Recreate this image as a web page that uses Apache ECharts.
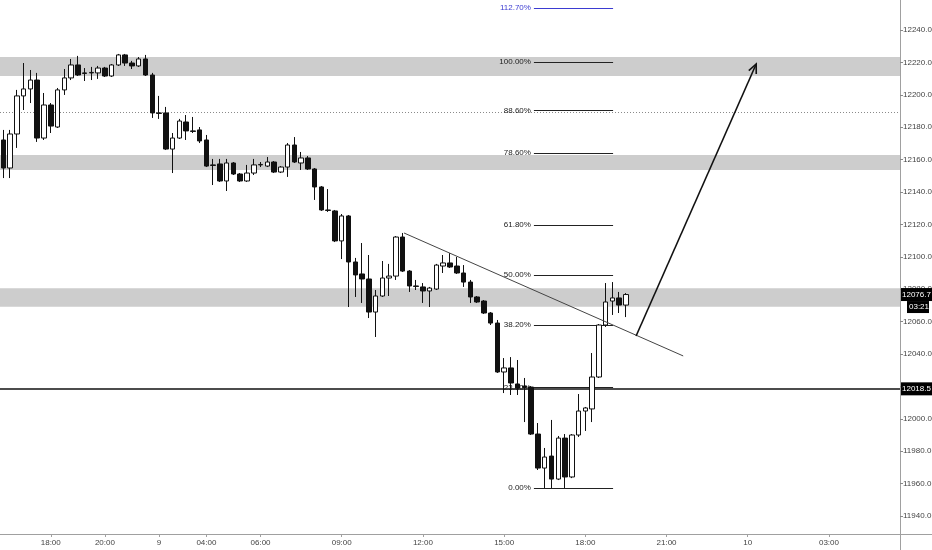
<!DOCTYPE html>
<html><head><meta charset="utf-8">
<script src="https://cdn.jsdelivr.net/npm/echarts@6/dist/echarts.min.js"></script>
<style>html,body{margin:0;padding:0;background:#fff}#c{width:932px;height:550px}</style>
</head><body><div id="c"></div>
<script>
// ---- data ----
const opens = [12172.1,12154.8,12175.8,12199.3,12203.6,12209.1,12173.3,12193.7,12180.1,12203.0,
12210.4,12218.4,12213.5,12213.5,12213.5,12216.5,12211.6,12218.4,12224.6,12219.6,
12217.8,12222.1,12212.2,12188.8,12188.8,12166.5,12173.3,12183.2,12177.7,12178.3,
12172.1,12156.7,12157.3,12146.8,12157.9,12151.1,12146.8,12151.7,12156.7,12156.0,
12158.5,12152.3,12155.4,12169.0,12157.9,12161.0,12154.2,12143.1,12128.9,12128.3,
12109.8,12125.2,12096.8,12089.4,12086.3,12065.9,12075.8,12086.9,12088.1,12112.2,
12091.2,12082.0,12081.4,12078.9,12080.1,12094.3,12096.2,12094.3,12090.0,12084.4,
12075.2,12072.7,12065.3,12059.1,12028.9,12031.4,12021.5,12020.2,12019.6,11990.6,
11969.6,11977.0,11962.8,11988.1,11964.1,11990.0,12004.8,12006.1,12025.8,12057.9,
12072.7,12074.6,12070.2];
const closes = [12154.8,12175.8,12199.3,12203.6,12209.1,12173.3,12193.7,12180.7,12203.0,12210.4,
12218.4,12212.2,12213.2,12213.8,12216.5,12211.6,12218.4,12224.6,12219.6,12217.8,
12222.1,12212.2,12188.8,12188.5,12166.5,12173.3,12183.8,12177.7,12177.4,12171.5,
12156.0,12156.4,12146.8,12157.9,12151.1,12146.8,12151.7,12156.7,12157.0,12158.5,
12152.3,12155.4,12169.0,12158.5,12161.0,12154.2,12143.1,12128.9,12128.6,12109.8,
12125.2,12096.8,12088.8,12086.3,12065.9,12075.8,12086.9,12088.1,12112.2,12091.2,
12082.0,12081.7,12078.9,12080.7,12094.9,12096.2,12093.7,12090.0,12084.4,12075.2,
12072.1,12065.3,12059.1,12028.9,12031.4,12022.1,12019.0,12019.3,11990.6,11969.6,
11976.4,11962.8,11988.1,11964.1,11990.0,12004.8,12006.7,12025.8,12057.9,12072.1,
12074.6,12070.2,12076.7];
const lows = [12148.6,12148.6,12167.2,12190.6,12194.9,12170.9,12172.1,12176.4,12179.5,12199.9,
12209.1,12211.6,12208.5,12209.1,12209.8,12211.0,12211.0,12217.8,12217.8,12215.9,
12217.2,12211.6,12185.7,12185.1,12165.9,12151.7,12172.7,12172.1,12176.4,12170.2,
12155.4,12144.3,12146.2,12140.6,12150.5,12146.2,12146.2,12150.5,12155.4,12155.4,
12151.7,12151.7,12149.3,12157.9,12153.6,12153.6,12135.1,12128.3,12127.7,12109.1,
12098.6,12069.0,12075.2,12071.5,12062.2,12050.5,12075.2,12075.8,12085.7,12090.6,
12078.3,12079.5,12071.5,12069.0,12079.5,12090.0,12093.1,12089.4,12081.4,12071.5,
12071.5,12064.7,12057.9,12028.3,12015.9,12014.7,12014.7,11998.0,11990.0,11968.4,
11957.3,11957.3,11962.2,11957.3,11963.4,11988.8,11992.5,11998.0,12025.2,12056.7,
12064.1,12065.3,12062.8];
const highs = [12178.3,12178.3,12203.0,12219.6,12215.3,12213.5,12201.1,12194.9,12204.2,12215.9,
12222.1,12224.0,12216.5,12217.2,12217.8,12217.2,12219.0,12225.2,12225.2,12220.9,
12223.3,12224.6,12213.5,12199.3,12192.5,12176.4,12185.1,12187.5,12186.3,12180.1,
12175.2,12160.4,12160.4,12160.4,12158.5,12151.7,12156.7,12160.4,12158.5,12161.6,
12159.1,12156.0,12170.2,12173.9,12164.7,12162.2,12154.8,12143.7,12141.8,12128.9,
12126.4,12125.8,12099.3,12108.5,12101.1,12079.5,12097.4,12095.6,12112.8,12114.7,
12091.8,12085.7,12083.8,12081.4,12095.6,12101.1,12102.3,12099.9,12094.9,12085.7,
12075.8,12073.3,12065.9,12061.0,12037.5,12038.1,12036.3,12025.2,12020.2,11997.4,
11982.0,11999.3,11989.4,11990.6,11990.6,12015.3,12007.3,12040.6,12058.5,12083.8,
12084.4,12078.3,12077.6];

const slotCount = 133;               // visible bar slots incl. future space
const timeTicks = {7:'18:00',15:'20:00',23:'9',30:'04:00',38:'06:00',50:'09:00',62:'12:00',74:'15:00',86:'18:00',98:'21:00',110:'10',122:'03:00'};
const priceTicks = [11940,11960,11980,12000,12020,12040,12060,12080,12100,12120,12140,12160,12180,12200,12220,12240];
const yTop = 12258.5, yBottom = 11928.9;

const zones = [[12211.6,12223.3],[12153.6,12162.8],[12069.2,12080.6]];
const dottedLevel = 12189.5;
const supportLevel = 12018.5;
const lastPrice = 12076.7;
const countdown = '03:21';

const fibLow = 11957.3, fibHigh = 12220.2;
const fibLevels = [0,0.236,0.382,0.5,0.618,0.786,0.886,1,1.127];
const fibLabels = ['0.00%','23.60%','38.20%','50.00%','61.80%','78.60%','88.60%','100.00%','112.70%'];
const fibFrom = 78.4, fibTo = 90.1;

const trendLine = [[59.2,12114.7],[100.46,12038.8]];
const arrow = [93.5,12051.1,111.25,12219.0];

// ---- build ----
const categories = [];
for (let i = 0; i < slotCount; i++) categories.push(timeTicks[i] !== undefined ? timeTicks[i] : '');
const ohlc = opens.map((o,i)=>[o, closes[i], lows[i], highs[i]]);

const chart = echarts.init(document.getElementById('c'));
const font = 'Liberation Sans, Arial, sans-serif';
const isTick = (i)=> timeTicks[i] !== undefined;

const fibData = fibLevels.map((lv,k)=>{
  const v = fibLow + lv*(fibHigh-fibLow);
  const col = k===8 ? '#3b3bd1' : '#222';
  return [
    {coord:[fibFrom, v], lineStyle:{color:col, width:1, type:'solid'},
     label:{show:true, position:'start', formatter:fibLabels[k], color:col, fontSize:8, fontFamily:font, distance:3}},
    {coord:[fibTo, v]}
  ];
});

const option = {
  animation:false,
  backgroundColor:'#fff',
  grid:{left:0, right:32, top:0, bottom:16, containLabel:false, outerBoundsMode:'none'},
  xAxis:[
    {type:'category', data:categories, boundaryGap:true,
     axisLine:{show:true, onZero:false, lineStyle:{color:'#a0a0a0', width:1}},
     axisTick:{show:true, alignWithLabel:true, interval:(i)=>isTick(i), length:3, lineStyle:{color:'#a0a0a0'}},
     axisLabel:{interval:(i)=>isTick(i), fontSize:8, color:'#444', fontFamily:font, margin:5},
     splitLine:{show:false}},
    {type:'value', min:-0.5, max:slotCount-0.5, show:false, axisLine:{onZero:false}}
  ],
  yAxis:{type:'value', position:'right', min:yBottom, max:yTop, scale:true,
    axisLine:{show:true, onZero:false, lineStyle:{color:'#a0a0a0'}},
    axisTick:{show:true, length:3, customValues:priceTicks, lineStyle:{color:'#888'}},
    axisLabel:{customValues:priceTicks, formatter:(v)=>Number(v).toFixed(1), fontSize:8, color:'#444', fontFamily:font, margin:3},
    splitLine:{show:false}},
  series:[
    {type:'line', xAxisIndex:1, data:[], z:1, silent:true,
     markArea:{silent:true, itemStyle:{color:'#cdcdcd'},
       data: zones.map(z=>[{yAxis:z[0]},{yAxis:z[1]}])}},
    {type:'line', xAxisIndex:1, data:[], z:2, silent:true,
     markLine:{silent:true, symbol:['none','none'], label:{show:false},
       data:[
         {yAxis:dottedLevel, lineStyle:{color:'#8a8a8a', type:[1,2], width:1}},
         {yAxis:supportLevel, lineStyle:{color:'#111', type:'solid', width:1.5}}
       ]}},
    {type:'line', xAxisIndex:1, data:[], z:3, silent:true,
     markLine:{silent:true, symbol:['none','none'], data:fibData}},
    {type:'candlestick', xAxisIndex:0, data:ohlc, z:5, barWidth:5,
     itemStyle:{color:'#ffffff', color0:'#111111', borderColor:'#111', borderColor0:'#111', borderWidth:1}},
    {type:'line', xAxisIndex:1, data:trendLine, z:6, symbol:'none', silent:true,
     lineStyle:{color:'#444', width:1}},
    {type:'custom', xAxisIndex:1, data:[arrow], z:7, silent:true, clip:false,
     renderItem:(params, api)=>{
       const p1 = api.coord([api.value(0), api.value(1)]);
       const p2 = api.coord([api.value(2), api.value(3)]);
       const ang = Math.atan2(p2[1]-p1[1], p2[0]-p1[0]);
       const L = 10, a = 0.42;
       const w1 = [p2[0]-L*Math.cos(ang-a), p2[1]-L*Math.sin(ang-a)];
       const w2 = [p2[0]-L*Math.cos(ang+a), p2[1]-L*Math.sin(ang+a)];
       return {type:'group', children:[
         {type:'line', shape:{x1:p1[0],y1:p1[1],x2:p2[0],y2:p2[1]}, style:{stroke:'#111', lineWidth:1.6}},
         {type:'polyline', shape:{points:[w1,p2,w2]}, style:{stroke:'#111', lineWidth:1.6, fill:null}}
       ]};
     }}
  ]
};
chart.setOption(option);

// axis price badges positioned through the y scale
const ySup = chart.convertToPixel({yAxisIndex:0}, supportLevel);
const yLast = chart.convertToPixel({yAxisIndex:0}, lastPrice);
const gridRight = 900;
chart.setOption({graphic:[
  {type:'line', shape:{x1:gridRight, y1:534.5, x2:932, y2:534.5}, style:{stroke:'#a0a0a0', lineWidth:1}, z:50},
  {type:'line', shape:{x1:gridRight+0.5, y1:534, x2:gridRight+0.5, y2:550}, style:{stroke:'#a0a0a0', lineWidth:1}, z:50},
  {type:'rect', shape:{x:gridRight+1, y:ySup-6.5, width:31, height:13}, style:{fill:'#000'}, z:60},
  {type:'text', x:gridRight+2, y:ySup, style:{text:supportLevel.toFixed(1), fill:'#fff', fontSize:8, fontFamily:font, verticalAlign:'middle'}, z:61},
  {type:'rect', shape:{x:gridRight+1, y:yLast-6.5, width:31, height:13}, style:{fill:'#000'}, z:60},
  {type:'text', x:gridRight+2, y:yLast, style:{text:lastPrice.toFixed(1), fill:'#fff', fontSize:8, fontFamily:font, verticalAlign:'middle'}, z:61},
  {type:'rect', shape:{x:gridRight+7, y:yLast+6.5, width:22, height:12}, style:{fill:'#000'}, z:60},
  {type:'text', x:gridRight+9, y:yLast+12.5, style:{text:countdown, fill:'#fff', fontSize:8, fontFamily:font, verticalAlign:'middle'}, z:61}
]});
</script>
</body></html>
